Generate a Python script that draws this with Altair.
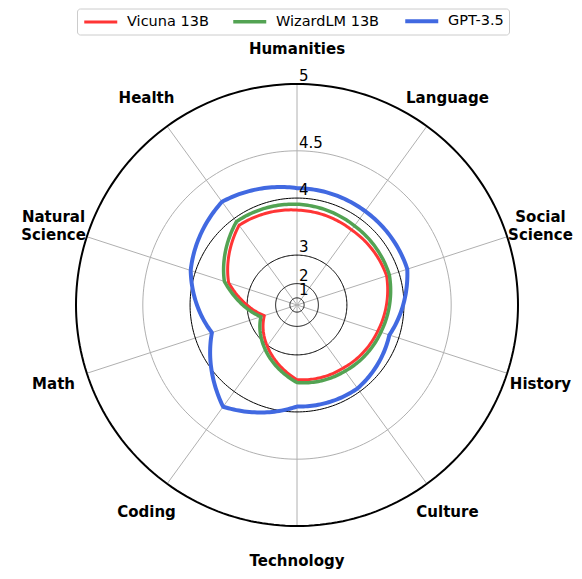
import altair as alt
import pandas as pd

# ---------------- data ----------------
categories = ["Humanities", "Language", "Social Science", "History", "Culture",
              "Technology", "Coding", "Math", "Natural Science", "Health"]
category_text = ["Humanities", "Language", "Social\nScience", "History", "Culture",
                 "Technology", "Coding", "Math", "Natural\nScience", "Health"]
models = ["Vicuna 13B", "WizardLM 13B", "GPT-3.5"]
vicuna_13b = [3.84, 3.81, 3.83, 3.69, 3.58, 3.52, 3.02, 2.54, 3.47, 3.89]
wizardlm_13b = [3.92, 3.88, 3.87, 3.74, 3.64, 3.57, 3.11, 2.66, 3.55, 3.95]
gpt_35 = [4.12, 4.11, 4.11, 3.87, 3.95, 3.93, 4.22, 3.76, 4.06, 4.24]
tick_values = [1, 2, 3, 4, 4.5, 5]
tick_labels = ["1", "2", "3", "4", "4.5", "5"]

# ---------------- style / geometry ----------------
colors = ["#ff3535", "#53a353", "#4169e1"]
widths = [3, 4, 3]
W, H = 566, 563
CX, CY = 289, 297          # centre inside the plot area (px)
R = 221                    # outer radius (px)
LABEL_R = 256              # category label radius (px)
LINE_H = 18
RMAX = 2 ** max(tick_values) - 1
K = R / RMAX
n = len(categories)

xs = alt.Scale(domain=[-CX / K, (W - CX) / K], nice=False, zero=False)
ys = alt.Scale(domain=[-(H - CY) / K, CY / K], nice=False, zero=False)

series_values = [vicuna_13b, wizardlm_13b, gpt_35]
rows = []
for m, vals in zip(models, series_values):
    for i, v in enumerate(vals):
        rows.append({"model": m, "idx": i, "value": v,
                     "next_value": vals[(i + 1) % n]})
sdf = pd.DataFrame(rows)
tdf = pd.DataFrame({"v": tick_values, "label": tick_labels})
cdf = pd.DataFrame({"idx": list(range(n)), "category": categories, "text": category_text})


def X(f):
    return alt.X(f, scale=xs, axis=None)


def Y(f):
    return alt.Y(f, scale=ys, axis=None)


# spokes
spokes = alt.Chart(cdf).transform_calculate(
    ang=f"datum.idx * 2 * PI / {n}",
    x0="0", y0="0",
    x1=f"{RMAX} * sin(datum.ang)",
    y1=f"{RMAX} * cos(datum.ang)",
).mark_rule(color="#b0b0b0", strokeWidth=1).encode(
    x=X("x0:Q"), y=Y("y0:Q"), x2="x1:Q", y2="y1:Q"
)

# grid circles
circle_base = alt.Chart(tdf).transform_calculate(
    step="sequence(0, 241)"
).transform_flatten(["step"]).transform_calculate(
    ang="datum.step * 2 * PI / 240",
    rr="pow(2, datum.v) - 1",
    x="datum.rr * sin(datum.ang)",
    y="datum.rr * cos(datum.ang)",
)
cenc = dict(x=X("x:Q"), y=Y("y:Q"), detail="v:N", order="step:Q")
circles_gray = circle_base.transform_filter("datum.v % 1 != 0").mark_line(
    color="#b0b0b0", strokeWidth=1).encode(**cenc)
circles_black = circle_base.transform_filter(
    f"datum.v % 1 == 0 && datum.v < {max(tick_values)}").mark_line(
    color="black", strokeWidth=1).encode(**cenc)
circle_outer = circle_base.transform_filter(
    f"datum.v == {max(tick_values)}").mark_line(
    color="black", strokeWidth=2).encode(**cenc)

# series
N = 30
series = alt.Chart(sdf).transform_calculate(
    step=f"sequence(0, {N + 1})"
).transform_flatten(["step"]).transform_calculate(
    t=f"datum.step / {N}",
    vv="datum.value + (datum.next_value - datum.value) * datum.t",
    ang=f"(datum.idx + datum.t) * 2 * PI / {n}",
    rr="pow(2, datum.vv) - 1",
    x="datum.rr * sin(datum.ang)",
    y="datum.rr * cos(datum.ang)",
    ord=f"datum.idx * {N + 1} + datum.step",
).mark_line(strokeJoin="round", strokeCap="round").encode(
    x=X("x:Q"), y=Y("y:Q"),
    color=alt.Color("model:N", scale=alt.Scale(domain=models, range=colors),
                    legend=alt.Legend(
                        title=None, orient="none", legendX=69, legendY=0.5,
                        direction="horizontal", symbolType="M-3.3,0H3.3",
                        symbolStrokeWidth=3, symbolSize=100, symbolOffset=11.5,
                        labelFont="DejaVu Sans", labelFontSize=14.5,
                        labelColor="black", labelOffset=19, columnPadding=17,
                        padding=5, strokeColor="#cccccc", fillColor="white",
                        cornerRadius=3)),
    strokeWidth=alt.StrokeWidth("model:N",
                                scale=alt.Scale(domain=models, range=widths),
                                legend=None),
    order="ord:Q",
)

# radial tick labels
tick_text = alt.Chart(tdf).transform_calculate(
    x0="0", rr="pow(2, datum.v) - 1"
).mark_text(align="left", baseline="alphabetic", dx=2, dy=-3, fontSize=15,
            font="DejaVu Sans", color="black").encode(
    x=X("x0:Q"), y=Y("rr:Q"), text="label:N"
)

# category labels (multi-line blocks centred on their anchor)
cat_text = alt.Chart(cdf).transform_calculate(
    ang=f"datum.idx * 2 * PI / {n}",
    nl="length(split(datum.text, '\\n'))",
    x=f"{LABEL_R / K} * sin(datum.ang)",
    y=f"{LABEL_R / K} * cos(datum.ang) + (datum.nl - 1) * {LINE_H / 2 / K}",
).mark_text(align="center", baseline="middle", fontSize=15, fontWeight="bold",
            font="DejaVu Sans", color="black", lineBreak="\n",
            lineHeight=LINE_H).encode(
    x=X("x:Q"), y=Y("y:Q"), text="text:N"
)

chart = alt.layer(
    spokes, circles_gray, circles_black, circle_outer, series, tick_text, cat_text
).properties(
    width=W, height=H, autosize=alt.AutoSizeParams(type="none"), padding=0
).configure_view(stroke=None)

chart.save("out.html", embed_options={"renderer": "svg", "actions": False})
